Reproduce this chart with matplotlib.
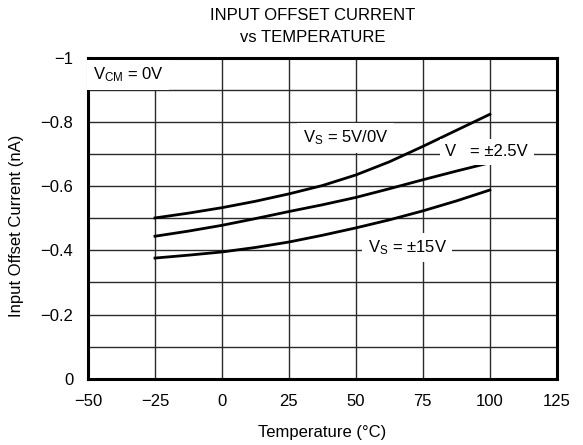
import numpy as np
import matplotlib
matplotlib.use('Agg')
import matplotlib.pyplot as plt
import matplotlib.ticker as mticker

plt.rcParams['font.family'] = ['Liberation Sans', 'DejaVu Sans']

# temperature (deg C) and input offset current (nA)
temps = [-25, -12.5, 0, 12.5, 25, 37.5, 50, 62.5, 75, 87.5, 100]
ios_5v = [-0.501, -0.516, -0.533, -0.553, -0.576, -0.602, -0.635,
          -0.676, -0.724, -0.774, -0.824]
ios_2p5v = [-0.444, -0.460, -0.478, -0.499, -0.521, -0.542, -0.565,
            -0.592, -0.620, -0.647, -0.673]
ios_15v = [-0.376, -0.385, -0.395, -0.409, -0.426, -0.447, -0.470,
           -0.495, -0.523, -0.554, -0.588]

x_ticks = [-50, -25, 0, 25, 50, 75, 100, 125]
y_ticks = [0, -0.2, -0.4, -0.6, -0.8, -1]
y_labels = ['0', '\u22120.2', '\u22120.4', '\u22120.6', '\u22120.8', '\u22121']

fig = plt.figure(figsize=(5.83, 4.45), dpi=100)
ax = fig.add_axes([0.151, 0.149, 0.804, 0.721])

for ys in (ios_5v, ios_2p5v, ios_15v):
    ax.plot(temps, ys, color='black', lw=2.0, zorder=3,
            solid_joinstyle='round')

ax.set_xlim(-50, 125)
ax.set_ylim(0, -1)
ax.set_xticks(x_ticks)
ax.set_yticks(y_ticks)
ax.set_yticklabels(y_labels)
ax.xaxis.set_major_formatter(mticker.FuncFormatter(
    lambda v, pos: ('%d' % v).replace('-', '\u2212')))
ax.set_yticks(np.arange(-0.1, -1.0, -0.2), minor=True)
ax.grid(True, which='both', color='#2a2a2a', lw=1.0)
ax.tick_params(which='both', length=0, labelsize=12)
ax.tick_params(axis='y', pad=10.5)
ax.tick_params(axis='x', pad=11)
for s in ax.spines.values():
    s.set_linewidth(2.2)

box = dict(facecolor='white', edgecolor='none', pad=4)
ax.text(-48.2, -0.947, '$\\mathregular{V_{CM}}$ = 0V', fontsize=12,
        va='center', ha='left', bbox=box, zorder=4)
ax.text(30.2, -0.751, '$\\mathregular{V_S}$ = 5V/0V', fontsize=12,
        va='center', ha='left', bbox=box, zorder=4)
ax.text(83.4, -0.708, 'V   = \u00b12.5V', fontsize=12, va='center',
        ha='left', bbox=box, zorder=4)
ax.text(54.5, -0.409, '$\\mathregular{V_S}$ = \u00b115V', fontsize=12,
        va='center', ha='left', bbox=box, zorder=4)

fig.text(0.553, 0.027, 'Temperature (\u00b0C)', ha='center', va='center',
         fontsize=12)
fig.text(0.028, 0.492, 'Input Offset Current (nA)', ha='center',
         va='center', rotation=90, fontsize=12)
fig.text(0.537, 0.966, 'INPUT OFFSET CURRENT', ha='center', va='center',
         fontsize=12)
fig.text(0.537, 0.915, 'vs TEMPERATURE', ha='center', va='center',
         fontsize=12)

plt.savefig('out.png', dpi=100)
